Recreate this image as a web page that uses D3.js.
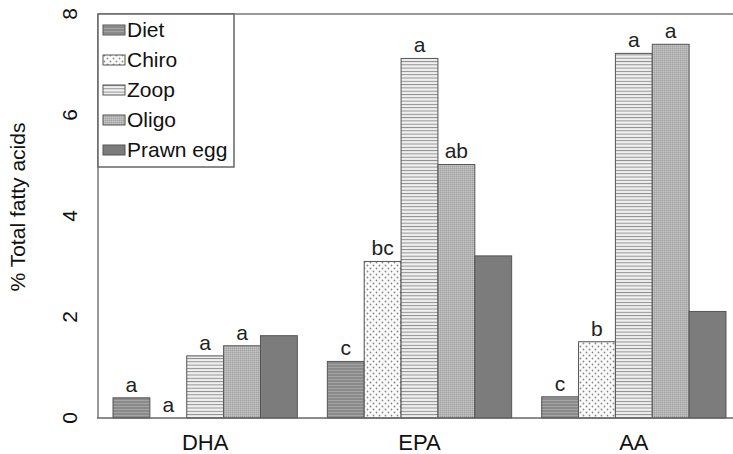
<!DOCTYPE html>
<meta charset="utf-8">
<style>
body { margin: 0; background: #fff; }
svg { font-family: "Liberation Sans", Arial, sans-serif; }
</style>
<svg width="733" height="454"></svg>
<script src="https://cdn.jsdelivr.net/npm/d3@7"></script>
<script>

var acids = ["DHA", "EPA", "AA"];
var series = ["Diet", "Chiro", "Zoop", "Oligo", "Prawn egg"];

// % total fatty acids, per series, in the order of acids
var diet     = [0.40, 1.12, 0.42];
var chiro    = [0.00, 3.10, 1.51];
var zoop     = [1.23, 7.12, 7.22];
var oligo    = [1.43, 5.02, 7.40];
var prawnEgg = [1.63, 3.21, 2.11];

// significance letters, same order
var dietLetters  = ["a", "c", "c"];
var chiroLetters = ["a", "bc", "b"];
var zoopLetters  = ["a", "a", "a"];
var oligoLetters = ["a", "ab", "a"];
var prawnLetters = ["", "", ""];

var yTicks = [0, 2, 4, 6, 8];

var values = [diet, chiro, zoop, oligo, prawnEgg],
    letters = [dietLetters, chiroLetters, zoopLetters, oligoLetters, prawnLetters];

var svg = d3.select("svg"),
    width = +svg.attr("width"),
    height = +svg.attr("height");

var plotLeft = 98, plotTop = 14, plotBottom = 418;

var x0 = d3.scaleBand()
    .domain(acids)
    .range([plotLeft, 741])
    .paddingInner(0.14)
    .paddingOuter(0.07);

var x1 = d3.scaleBand()
    .domain(series)
    .range([0, x0.bandwidth()]);

var y = d3.scaleLinear()
    .domain([0, 8])
    .range([plotBottom, plotTop]);

// fill patterns
var defs = svg.append("defs");

var pDiet = defs.append("pattern").attr("id", "p-diet")
    .attr("patternUnits", "userSpaceOnUse").attr("width", 4).attr("height", 3);
pDiet.append("rect").attr("width", 4).attr("height", 3).attr("fill", "#8a8a8a");
pDiet.append("rect").attr("y", 1).attr("width", 4).attr("height", 1).attr("fill", "#a4a4a4");

var pChiro = defs.append("pattern").attr("id", "p-chiro")
    .attr("patternUnits", "userSpaceOnUse").attr("width", 6).attr("height", 6);
pChiro.append("rect").attr("width", 6).attr("height", 6).attr("fill", "#fbfbfb");
pChiro.append("circle").attr("cx", 1.5).attr("cy", 1.5).attr("r", 0.9).attr("fill", "#8a8a8a");
pChiro.append("circle").attr("cx", 4.5).attr("cy", 4.5).attr("r", 0.9).attr("fill", "#8a8a8a");

var pZoop = defs.append("pattern").attr("id", "p-zoop")
    .attr("patternUnits", "userSpaceOnUse").attr("width", 4).attr("height", 3.3);
pZoop.append("rect").attr("width", 4).attr("height", 3.3).attr("fill", "#f2f2f2");
pZoop.append("rect").attr("y", 1.6).attr("width", 4).attr("height", 1).attr("fill", "#8d8d8d");

var pOligo = defs.append("pattern").attr("id", "p-oligo")
    .attr("patternUnits", "userSpaceOnUse").attr("width", 2).attr("height", 2);
pOligo.append("rect").attr("width", 2).attr("height", 2).attr("fill", "#b6b6b6");
pOligo.append("rect").attr("width", 1).attr("height", 1).attr("fill", "#a2a2a2");
pOligo.append("rect").attr("x", 1).attr("y", 1).attr("width", 1).attr("height", 1).attr("fill", "#c2c2c2");

var fills = {
  "Diet": "url(#p-diet)",
  "Chiro": "url(#p-chiro)",
  "Zoop": "url(#p-zoop)",
  "Oligo": "url(#p-oligo)",
  "Prawn egg": "#7c7c7c"
};

// frame lines: left axis and top edge
svg.append("line")
    .attr("x1", plotLeft).attr("x2", plotLeft).attr("y1", plotTop).attr("y2", plotBottom)
    .attr("stroke", "#777").attr("stroke-width", 1.5);
svg.append("line")
    .attr("x1", plotLeft).attr("x2", width).attr("y1", plotTop).attr("y2", plotTop)
    .attr("stroke", "#777").attr("stroke-width", 1.5);

// bars
var rows = [];
series.forEach(function(s, i) {
  acids.forEach(function(a, j) {
    rows.push({acid: a, series: s, value: values[i][j], letter: letters[i][j]});
  });
});

svg.append("g").selectAll("rect")
  .data(rows.filter(function(d) { return d.value > 0; }))
  .enter().append("rect")
    .attr("x", function(d) { return x0(d.acid) + x1(d.series); })
    .attr("y", function(d) { return y(d.value); })
    .attr("width", x1.bandwidth())
    .attr("height", function(d) { return y(0) - y(d.value); })
    .attr("fill", function(d) { return fills[d.series]; })
    .attr("stroke", "#555")
    .attr("stroke-width", 1);

svg.append("g").selectAll("text")
  .data(rows)
  .enter().append("text")
    .attr("x", function(d) { return x0(d.acid) + x1(d.series) + x1.bandwidth() / 2; })
    .attr("y", function(d) { return y(d.value) - 6; })
    .attr("text-anchor", "middle")
    .attr("font-size", 21)
    .attr("fill", "#222")
    .text(function(d) { return d.letter; });

// baseline
svg.append("line")
    .attr("x1", plotLeft - 1).attr("x2", width).attr("y1", plotBottom).attr("y2", plotBottom)
    .attr("stroke", "#666").attr("stroke-width", 1.5);

// y tick labels, rotated like the original
svg.append("g").selectAll("text")
  .data(yTicks)
  .enter().append("text")
    .attr("transform", function(d) { return "translate(70," + y(d) + ") rotate(-90)"; })
    .attr("text-anchor", "middle")
    .attr("dy", "0.35em")
    .attr("font-size", 21)
    .attr("fill", "#111")
    .text(function(d) { return d; });

svg.append("text")
    .attr("transform", "translate(18,207) rotate(-90)")
    .attr("text-anchor", "middle")
    .attr("dy", "0.35em")
    .attr("font-size", 21)
    .attr("fill", "#111")
    .text("% Total fatty acids");

// category labels
svg.append("g").selectAll("text")
  .data(acids)
  .enter().append("text")
    .attr("x", function(d) { return x0(d) + x0.bandwidth() / 2; })
    .attr("y", 450)
    .attr("text-anchor", "middle")
    .attr("font-size", 22)
    .attr("fill", "#111")
    .text(function(d) { return d; });

// legend
var legend = svg.append("g");
legend.append("rect")
    .attr("x", plotLeft).attr("y", plotTop)
    .attr("width", 136).attr("height", 153)
    .attr("fill", "#fff")
    .attr("stroke", "#666").attr("stroke-width", 1.5);

var item = legend.selectAll("g.item")
  .data(series)
  .enter().append("g")
    .attr("class", "item")
    .attr("transform", function(d, i) { return "translate(103," + (30 + i * 30) + ")"; });

item.append("rect")
    .attr("y", -5)
    .attr("width", 22).attr("height", 10)
    .attr("fill", function(d) { return fills[d]; })
    .attr("stroke", "#555");

item.append("text")
    .attr("x", 24)
    .attr("dy", "0.35em")
    .attr("font-size", 21)
    .attr("fill", "#111")
    .text(function(d) { return d; });

</script>
